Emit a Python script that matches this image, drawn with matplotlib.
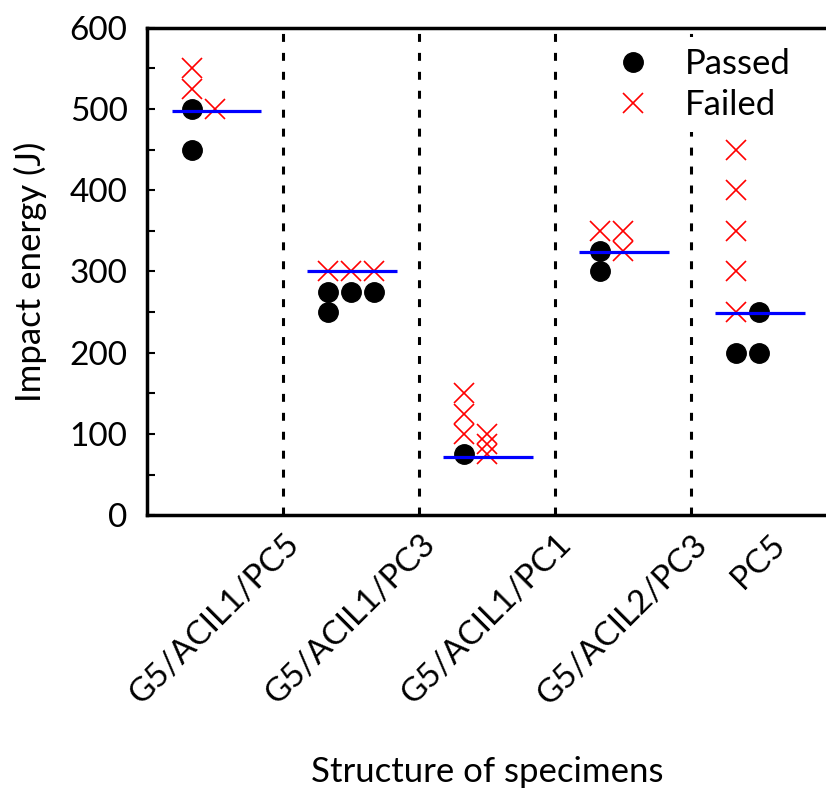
import matplotlib
matplotlib.use('Agg')
import matplotlib.pyplot as plt
from matplotlib.ticker import MultipleLocator

plt.rcParams['font.family'] = ['Lato', 'DejaVu Sans']

groups = ['G5/ACIL1/PC5', 'G5/ACIL1/PC3', 'G5/ACIL1/PC1', 'G5/ACIL2/PC3', 'PC5']

# specimens that passed: (x position, impact energy)
passed_x = [0.33, 0.33, 1.33, 1.33, 1.5, 1.67, 2.33, 3.33, 3.33, 4.33, 4.5, 4.5]
passed_y = [450, 500, 250, 275, 275, 275, 75, 300, 325, 200, 200, 250]

# specimens that failed
failed_x = [0.33, 0.33, 0.5,
            1.33, 1.5, 1.67,
            2.33, 2.33, 2.33, 2.5, 2.5, 2.5,
            3.33, 3.5, 3.5,
            4.33, 4.33, 4.33, 4.33, 4.33]
failed_y = [525, 550, 500,
            300, 300, 300,
            100, 125, 150, 75, 87.5, 100,
            350, 325, 350,
            250, 300, 350, 400, 450]

# threshold energy per structure (blue lines)
threshold = [498, 300, 72, 324, 249]

fig = plt.figure(figsize=(8.26, 7.95), dpi=100)
ax = fig.add_axes([0.178, 0.352, 0.823, 0.613])

ax.plot(passed_x, passed_y, 'o', color='black', markersize=14, linestyle='none',
        label='Passed', zorder=3)
ax.plot(failed_x, failed_y, 'x', color='red', markersize=14, markeredgewidth=1.2,
        linestyle='none', label='Failed', zorder=4)

for i, t in enumerate(threshold):
    ax.hlines(t, i + 0.18, i + 0.84, color='blue', linewidth=2.3, zorder=5)

for i in range(1, len(groups)):
    ax.axvline(i, color='black', linestyle=(0, (2.6, 3.6)), linewidth=2.2, zorder=1)

ax.set_xlim(0, len(groups))
ax.set_ylim(0, 600)
ax.yaxis.set_major_locator(MultipleLocator(100))
ax.yaxis.set_minor_locator(MultipleLocator(50))
ax.tick_params(axis='y', which='both', direction='in', length=6, width=1.5,
               labelsize=24, pad=14)
ax.tick_params(axis='x', length=0, labelsize=24, pad=10)

ax.set_xticks([i + 0.5 for i in range(len(groups))])
ax.set_xticklabels(groups, rotation=45, ha='center', va='top')

for s in ['left', 'bottom', 'top']:
    ax.spines[s].set_linewidth(2.5)
ax.spines['right'].set_visible(False)

ax.set_ylabel('Impact energy (J)', fontsize=25, labelpad=16)
ax.set_xlabel('Structure of specimens', fontsize=25, labelpad=33)

leg = ax.legend(loc='upper right', bbox_to_anchor=(0.988, 1.016), fontsize=25,
                frameon=True, edgecolor='none', facecolor='white', framealpha=1,
                handletextpad=0.5, borderpad=0.3, labelspacing=0.27, fancybox=False)
leg.set_zorder(10)

fig.savefig('out.png', dpi=100)
